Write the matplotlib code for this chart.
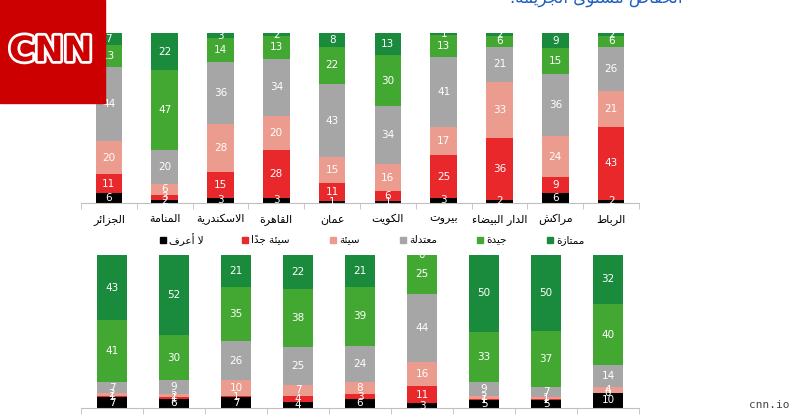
import unicodedata
import numpy as np
import matplotlib
matplotlib.use("Agg")
import matplotlib.pyplot as plt
from matplotlib.patches import Rectangle
import matplotlib.patheffects as pe

# --- Arabic shaping (matplotlib has no shaping / bidi) ---
FORMS = {}
LIGS = {}
for cp in range(0xFE70, 0xFEFD):
    d = unicodedata.decomposition(chr(cp))
    if not d:
        continue
    parts = d.split()
    tag = parts[0].strip("<>")
    chars = "".join(chr(int(p, 16)) for p in parts[1:])
    if len(chars) == 1:
        FORMS.setdefault(chars, {})[tag] = chr(cp)
    elif len(chars) == 2 and chars[0] == "\u0644":
        LIGS.setdefault(chars[1], {})[tag] = chr(cp)


def is_mark(c):
    return unicodedata.category(c) == "Mn"


def joins_fwd(c):
    return c in FORMS and "initial" in FORMS[c]


def ar(text):
    chars = list(text)
    n = len(chars)
    out = []
    i = 0
    while i < n:
        c = chars[i]
        if c not in FORMS:
            out.append(c)
            i += 1
            continue
        j = i - 1
        while j >= 0 and is_mark(chars[j]):
            j -= 1
        pj = j >= 0 and joins_fwd(chars[j])
        k = i + 1
        while k < n and is_mark(chars[k]):
            k += 1
        nxt = chars[k] if k < n else None
        if c == "\u0644" and nxt in LIGS:
            out.append(LIGS[nxt]["final" if pj else "isolated"])
            i = k + 1
            continue
        nj = nxt is not None and nxt in FORMS
        f = FORMS[c]
        if joins_fwd(c):
            if pj and nj:
                form = "medial"
            elif pj:
                form = "final"
            elif nj:
                form = "initial"
            else:
                form = "isolated"
        else:
            form = "final" if pj else "isolated"
        out.append(f.get(form, f.get("isolated", c)))
        i += 1
    clusters = []
    for ch in out:
        if clusters and is_mark(ch):
            clusters[-1] += ch
        else:
            clusters.append(ch)
    return "".join(reversed(clusters))


# --- data ---
series_names = ["لا أعرف", "سيئة جداً", "سيئة", "معتدلة", "جيدة", "ممتازة"]
series_colors = ["#000000", "#e8282a", "#ec9c8e", "#a6a6a6", "#43a832", "#1a8a3c"]

top_cities = ["الجزائر", "المنامة", "الاسكندرية", "القاهرة", "عمان",
              "الكويت", "بيروت", "الدار البيضاء", "مراكش", "الرباط"]
top_dk = [6, 2, 3, 3, 1, 1, 3, 2, 6, 2]
top_vbad = [11, 3, 15, 28, 11, 6, 25, 36, 9, 43]
top_bad = [20, 6, 28, 20, 15, 16, 17, 33, 24, 21]
top_mod = [44, 20, 36, 34, 43, 34, 41, 21, 36, 26]
top_good = [13, 47, 14, 13, 22, 30, 13, 6, 15, 6]
top_exc = [7, 22, 3, 2, 8, 13, 1, 2, 9, 2]

bot_dk = [7, 6, 7, 4, 6, 3, 5, 5, 10]
bot_vbad = [1, 1, 1, 4, 3, 11, 1, 1, 0]
bot_bad = [2, 2, 10, 7, 8, 16, 2, 1, 4]
bot_mod = [7, 9, 26, 25, 24, 44, 9, 7, 14]
bot_good = [41, 30, 35, 38, 39, 25, 33, 37, 40]
bot_exc = [43, 52, 21, 22, 21, 0, 50, 50, 32]

W, H = 800, 420


def fx(px):
    return px / W


def fy(py):
    return 1 - py / H


def stacked(ax, cols, width=0.48):
    data = np.array(cols, dtype=float)
    totals = data.sum(axis=0)
    x = np.arange(data.shape[1])
    bottom = np.zeros(data.shape[1])
    for vals, color in zip(data, series_colors):
        h = vals / totals * 100
        bars = ax.bar(x, h, width, bottom=bottom, color=color, linewidth=0)
        ax.bar_label(bars, labels=[f"{int(v)}" for v in vals], label_type="center",
                     color="white", fontsize=7.5)
        bottom += h
    n = data.shape[1]
    ax.set_xlim(-0.5, n - 0.5)
    ax.set_ylim(0, 100)
    for s in ["top", "right", "left"]:
        ax.spines[s].set_visible(False)
    ax.spines["bottom"].set_color("#bfbfbf")
    ax.set_yticks([])
    ax.set_xticks(np.arange(n + 1) - 0.5, minor=True)
    ax.tick_params(axis="x", which="minor", length=4, color="#bfbfbf")
    ax.tick_params(axis="x", which="major", length=0, pad=8)
    ax.set_xticks(x)
    return x


fig = plt.figure(figsize=(8, 4.2), dpi=100)

ax1 = fig.add_axes([fx(81), fy(203), fx(639) - fx(81), fy(33) - fy(203)])
stacked(ax1, [top_dk, top_vbad, top_bad, top_mod, top_good, top_exc])
ax1.set_xticklabels([ar(c) for c in top_cities], fontsize=8)

ax2 = fig.add_axes([fx(81), fy(408), fx(639) - fx(81), fy(255) - fy(408)])
stacked(ax2, [bot_dk, bot_vbad, bot_bad, bot_mod, bot_good, bot_exc])
ax2.set_xticklabels([])

# legend
leg_x = [160, 242, 330, 400, 477, 547]
for px, name, color in zip(leg_x, series_names, series_colors):
    fig.add_artist(Rectangle((fx(px), fy(243)), 6 / W, 6 / H, color=color,
                             transform=fig.transFigure))
    fig.text(fx(px + 9), fy(240), ar(name), fontsize=7.5, va="center", ha="left")

# title (cut off at the top)
fig.text(fx(683), fy(3), ar("انخفاض مستوى الجريمة."), fontsize=12, color="#1f5fbf",
         ha="right", va="baseline")

# CNN logo
fig.add_artist(Rectangle((0, fy(103)), fx(105), 103 / H, color="#cc0000",
                         transform=fig.transFigure, zorder=10))
fig.text(fx(51), fy(51), "CNN", color="#cc0000", fontsize=25, fontweight="bold",
         ha="center", va="center", zorder=11,
         path_effects=[pe.withStroke(linewidth=4, foreground="white")])

fig.text(fx(790), fy(405), "cnn.io", family="DejaVu Sans Mono", fontsize=8,
         color="#444444", ha="right", va="center")

fig.savefig("out.png", dpi=100)
